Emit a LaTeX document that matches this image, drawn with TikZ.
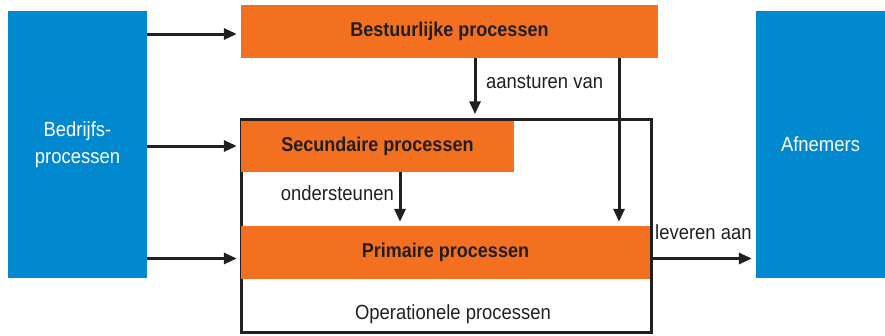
\documentclass[tikz,border=0pt]{standalone}
\usepackage{fontspec}
\setmainfont{Liberation Sans}[FakeStretch=0.9]
\usetikzlibrary{arrows.meta,calc}
\definecolor{dblue}{HTML}{0089CF}
\definecolor{dorange}{HTML}{F37021}
\definecolor{dtext}{HTML}{231F20}
\begin{document}
\begin{tikzpicture}[x=1pt,y=-1pt,
  bluebox/.style={fill=dblue,draw=none,text=white,align=center,inner sep=0pt,font=\fontsize{20.5}{27}\selectfont},
  orbox/.style={fill=dorange,draw=none,text=dtext,inner sep=0pt,font=\bfseries\fontsize{20}{22}\selectfont},
  lbl/.style={text=dtext,inner sep=0pt,font=\fontsize{20.5}{22}\selectfont},
  arr/.style={draw=dtext,line width=3pt,-{Triangle[length=13pt,width=11pt]}},
  frame/.style={draw=dtext,line width=2.5pt,fill=white}]
\useasboundingbox (0,0) rectangle (885,335);
% boxes
\node[bluebox,minimum width=139pt,minimum height=267pt] (bed) at (77.5,144.5) {Bedrijfs-\\processen};
\node[bluebox,minimum width=129pt,minimum height=267pt] (afn) at (820.5,144.5) {Afnemers};
\node[frame,minimum width=410pt,minimum height=213pt,inner sep=0pt] (op) at (446.5,226) {};
\node[orbox,minimum width=417pt,minimum height=53pt] (best) at (449.5,31.5) {Bestuurlijke processen};
\node[orbox,minimum width=273pt,minimum height=51pt] (sec) at (377.5,146.5) {Secundaire processen};
\node[orbox,minimum width=409pt,minimum height=53pt] (prim) at (445.5,252.5) {Primaire processen};
\node[lbl] (oper) at (453,314) {Operationele processen};
% helper coordinates
\coordinate (ya) at (0,34);
\coordinate (yb) at (0,146);
\coordinate (yc) at (0,258.5);
\coordinate (xa) at (475,0);
\coordinate (xb) at (619,0);
\coordinate (xc) at (400,0);
% arrows from Bedrijfsprocessen
\draw[arr,shorten >=4pt] (bed.east |- ya) -- (best.west |- ya);
\draw[arr,shorten >=4pt] (bed.east |- yb) -- (sec.west |- yb);
\draw[arr,shorten >=4pt] (bed.east |- yc) -- (prim.west |- yc);
% vertical arrows
\draw[arr,shorten >=4pt] (best.south -| xa) -- (op.north -| xa);
\node[lbl,anchor=west] (aan) at (486,82) {aansturen van};
\draw[arr,shorten >=4pt] (best.south -| xb) -- (prim.north -| xb);
\draw[arr,shorten >=4pt] (sec.south -| xc) -- (prim.north -| xc);
\node[lbl,anchor=east] (ond) at (394,193) {ondersteunen};
% leveren aan
\draw[arr,shorten >=4pt] (op.east |- yc) -- (afn.west |- yc);
\node[lbl,anchor=west] (lev) at (655,232) {leveren aan};
\end{tikzpicture}
\end{document}
